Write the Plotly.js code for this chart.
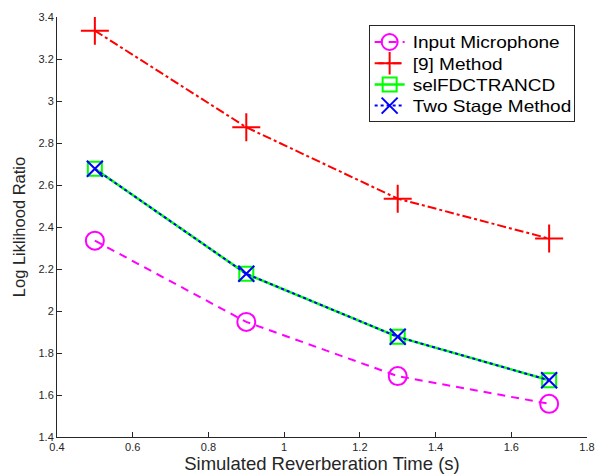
<!DOCTYPE html>
<html>
<head>
<meta charset="utf-8">
<script src="https://cdn.plot.ly/plotly-3.0.1.min.js"></script>
<style>
html,body{margin:0;padding:0;background:#fff;}
#chart{width:598px;height:475px;}
.legendtext{transform-box:fill-box;transform-origin:0% 50%;transform:translateX(3px) scale(1.36,1.18);}
</style>
</head>
<body>
<div id="chart"></div>
<script>
const reverbTimes = [0.5, 0.9, 1.3, 1.7];
const inputMic = [2.335, 1.948, 1.69, 1.558];
const method9 = [3.335, 2.875, 2.535, 2.345];
const selFDCTRANCD = [2.677, 2.177, 1.877, 1.67];
const twoStage = [2.677, 2.177, 1.877, 1.67];
const seriesNames = ['Input Microphone', '[9] Method', 'selFDCTRANCD', 'Two Stage Method'];
const xTicks = [0.4, 0.6, 0.8, 1, 1.2, 1.4, 1.6, 1.8];
const yTicks = [1.4, 1.6, 1.8, 2, 2.2, 2.4, 2.6, 2.8, 3, 3.2, 3.4];

const traces = [
  {x: reverbTimes, y: inputMic, name: seriesNames[0], mode: 'lines+markers',
   line: {color: '#ff00ff', width: 2, dash: '8px,6px'},
   marker: {symbol: 'circle-open', size: 18, color: '#ff00ff', line: {width: 2, color: '#ff00ff'}}},
  {x: reverbTimes, y: method9, name: seriesNames[1], mode: 'lines+markers',
   line: {color: '#ff0000', width: 2, dash: 'dashdot'},
   marker: {symbol: 'cross-thin-open', size: 20, color: '#ff0000', line: {width: 2, color: '#ff0000'}}},
  {x: reverbTimes, y: selFDCTRANCD, name: seriesNames[2], mode: 'lines+markers',
   line: {color: '#00ff00', width: 2.5},
   marker: {symbol: 'square-open', size: 14, color: '#00ff00', line: {width: 2, color: '#00ff00'}}},
  {x: reverbTimes, y: twoStage, name: seriesNames[3], mode: 'lines+markers',
   line: {color: '#0000ff', width: 2, dash: 'dot'},
   marker: {symbol: 'x-thin-open', size: 16, color: '#0000ff', line: {width: 2, color: '#0000ff'}}}
];

const axisCommon = {
  showgrid: false, zeroline: false, showline: true, linecolor: '#262626', linewidth: 1,
  ticks: 'inside', ticklen: 5, tickcolor: '#262626', tickwidth: 1,
  tickfont: {family: 'Liberation Sans, Arial, sans-serif', size: 11, color: '#262626'}
};

const layout = {
  width: 598, height: 475,
  margin: {l: 57, r: 11, t: 17, b: 38},
  paper_bgcolor: '#fff', plot_bgcolor: '#fff',
  showlegend: true,
  font: {family: 'Liberation Sans, Arial, sans-serif', color: '#262626'},
  xaxis: Object.assign({}, axisCommon, {
    range: [0.4, 1.8], tickvals: xTicks, ticktext: xTicks.map(String),
    title: {text: 'Simulated Reverberation Time (s)', font: {size: 18.5, color: '#262626'}, standoff: 3}
  }),
  yaxis: Object.assign({}, axisCommon, {
    range: [1.4, 3.4], tickvals: yTicks, ticktext: yTicks.map(String),
    title: {text: 'Log Liklihood Ratio', font: {size: 16.5, color: '#262626'}, standoff: 8}
  }),
  legend: {
    x: 0.588, y: 0.98, xanchor: 'left', yanchor: 'top',
    bgcolor: '#fff', bordercolor: '#262626', borderwidth: 1,
    font: {family: 'Liberation Sans, Arial, sans-serif', size: 14, color: '#000'},
    tracegroupgap: 0, itemsizing: 'trace'
  }
};

Plotly.newPlot('chart', traces, layout, {displayModeBar: false, staticPlot: true});
</script>
</body>
</html>
